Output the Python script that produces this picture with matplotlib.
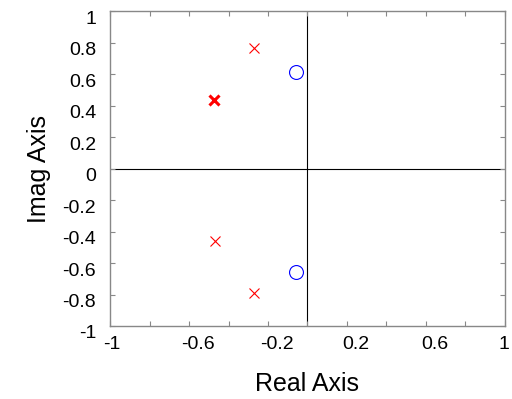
import numpy as np
import matplotlib
matplotlib.use("Agg")
import matplotlib.pyplot as plt
import matplotlib.transforms as mtransforms

plt.rcParams['font.family'] = ['Liberation Sans', 'DejaVu Sans']

# poles (x) and zeros (o)
pole_re = [-0.27, -0.47, -0.27]
pole_im = [0.765, -0.458, -0.789]
pole_bold_re = [-0.473]
pole_bold_im = [0.435]
zero_re = [-0.058, -0.058]
zero_im = [0.613, -0.655]

xticks = np.arange(-1, 1.01, 0.2)
xlabels = ['-1', '', '-0.6', '', '-0.2', '', '0.2', '', '0.6', '', '1']
yticks = np.arange(-1, 1.01, 0.2)
ylabels = ['-1', '-0.8', '-0.6', '-0.4', '-0.2', '0', '0.2', '0.4', '0.6', '0.8', '1']

fig = plt.figure(figsize=(5.12, 3.99), dpi=100)
ax = fig.add_axes([0.215, 0.183, 0.771, 0.789])

ax.axhline(0, color='black', lw=0.8, zorder=1)
ax.axvline(0, color='black', lw=0.8, zorder=1)

ax.plot(pole_re, pole_im, 'x', color='red', ms=7.5, mew=0.8, ls='none')
ax.plot(pole_bold_re, pole_bold_im, 'x', color='red', ms=7, mew=2.2, ls='none')
ax.plot(zero_re, zero_im, 'o', mfc='none', mec='blue', ms=10, mew=0.8, ls='none')

ax.set_xlim(-1, 1)
ax.set_ylim(-1, 1)
ax.set_xticks(xticks)
ax.set_xticklabels(xlabels)
ax.set_yticks(yticks)
ax.set_yticklabels(ylabels)

for s in ax.spines.values():
    s.set_color('#888888')
    s.set_linewidth(1.0)
ax.tick_params(direction='in', length=3.5, width=0.8, color='#888888',
               top=True, right=True, labelsize=14, labelcolor='black')
ax.tick_params(axis='x', pad=7)
ax.tick_params(axis='y', pad=10)

# labels sit a little right of their ticks in the reference
labs = ax.get_xticklabels()
for i, lab in enumerate(labs):
    shift = 2 if i in (0, len(labs) - 1) else 9
    if i == len(labs) - 1:
        shift = -1
    dx = mtransforms.ScaledTranslation(shift / 100, 0, fig.dpi_scale_trans)
    lab.set_transform(lab.get_transform() + dx)
dy = mtransforms.ScaledTranslation(0, -6 / 100, fig.dpi_scale_trans)
for lab in ax.get_yticklabels():
    lab.set_transform(lab.get_transform() + dy)

ax.set_xlabel('Real Axis', fontsize=18, labelpad=14)
ax.set_ylabel('Imag Axis', fontsize=18, labelpad=8)

fig.savefig('out.png', dpi=100)
